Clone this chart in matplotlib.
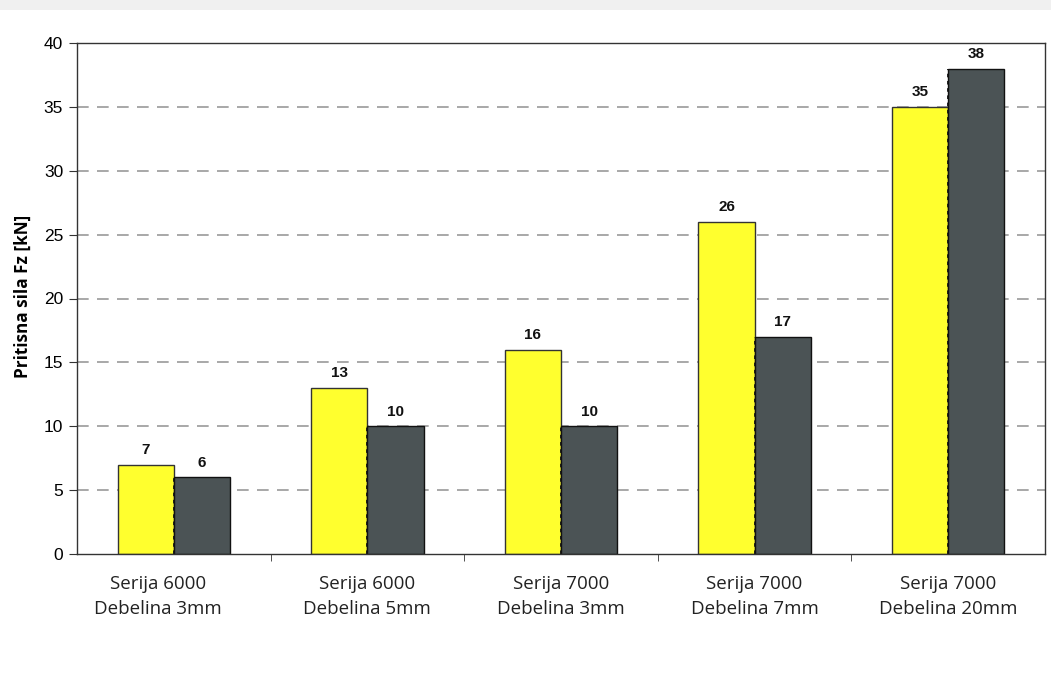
import numpy as np
import matplotlib.pyplot as plt
from matplotlib.transforms import ScaledTranslation

# Pritisna sila po seriji legure i debelini
kategorije = ["Serija 6000\nDebelina 3mm", "Serija 6000\nDebelina 5mm",
              "Serija 7000\nDebelina 3mm", "Serija 7000\nDebelina 7mm",
              "Serija 7000\nDebelina 20mm"]
sila_zuta = [7, 13, 16, 26, 35]
sila_siva = [6, 10, 10, 17, 38]

fig = plt.figure(figsize=(10.51, 6.74), dpi=100)
fig.patch.set_facecolor("white")
# siva traka na vrhu
fig.patches.append(plt.Rectangle((0, 1 - 10 / 674), 1, 10 / 674, transform=fig.transFigure,
                                 facecolor="#f0f0f0", edgecolor="none"))

ax = fig.add_axes([77 / 1051, 1 - 554 / 674, (1045 - 77) / 1051, (554 - 43) / 674])

x = np.arange(len(kategorije))
w = 0.29
b1 = ax.bar(x - w / 2, sila_zuta, w, color="#ffff2e", edgecolor="#333333", linewidth=1, zorder=3)
b2 = ax.bar(x + w / 2, sila_siva, w, color="#4b5355", edgecolor="#111111", linewidth=1, zorder=3)
# isprekidana granica izmedju stubova
ax.vlines(x, 0, sila_siva, colors="#111111", linestyles=(0, (2, 2)), linewidth=1.3, zorder=4)

for bars, vals in ((b1, sila_zuta), (b2, sila_siva)):
    for r, v in zip(bars, vals):
        ax.text(r.get_x() + r.get_width() / 2, v + 0.6, str(v), ha="center", va="bottom",
                fontsize=11, fontweight="bold", family="Liberation Sans", color="#111111")

ax.set_xlim(-0.5, len(kategorije) - 0.5)
ax.set_ylim(0, 40)
ax.set_yticks(range(0, 41, 5))
ax.yaxis.grid(True, linestyle=(0, (7, 5)), color="#999999", linewidth=1.2)
ax.set_axisbelow(True)
gl = ax.get_ygridlines()
gl[0].set_visible(False)
gl[-1].set_visible(False)

ax.set_xticks(x)
ax.set_xticklabels(kategorije, family="Open Sans", fontsize=13.5, color="#222222", linespacing=1.5)
ax.tick_params(axis="x", length=0, pad=15)
ax.set_xticks(np.arange(0.5, len(kategorije) - 0.5), minor=True)
ax.tick_params(axis="x", which="minor", length=5, direction="out", color="#333333")
ax.tick_params(axis="y", length=6, direction="out", labelsize=12.5, color="#333333", pad=4)
for lab in ax.get_yticklabels():
    lab.set_family("Liberation Sans")
prvi = ax.get_xticklabels()[0]
prvi.set_transform(prvi.get_transform() + ScaledTranslation(-0.16, 0, fig.dpi_scale_trans))

for s in ax.spines.values():
    s.set_color("#333333")
    s.set_linewidth(1)
    s.set_zorder(5)

ax.set_ylabel("Pritisna sila Fz [kN]", family="Open Sans", fontweight="bold",
              fontsize=12.3, color="black")
ax.yaxis.set_label_coords(-45 / 968, 0.505)

fig.savefig("out.png", dpi=100)
